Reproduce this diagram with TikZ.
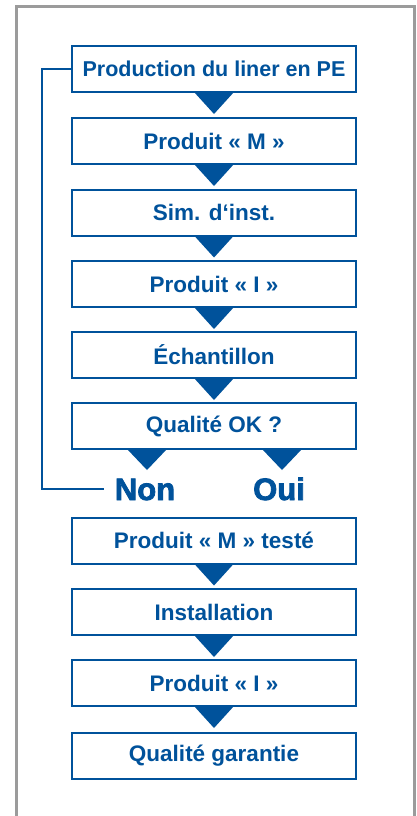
\documentclass[tikz,border=0pt]{standalone}
\usepackage{fontspec}
\setmainfont{Liberation Sans}
\newfontfamily\heavyfont{Liberation Sans}[FakeBold=2.5]
\definecolor{fblue}{RGB}{0,82,155}
\definecolor{fgray}{RGB}{155,155,155}
\tikzset{
  stepbox/.style={draw=fblue, line width=2pt, fill=white, minimum width=284pt, minimum height=46pt, inner sep=0pt,
    font=\fontsize{22.5}{24}\selectfont\bfseries, text=fblue},
  tri/.style={fill=fblue, draw=none},
  answer/.style={font=\fontsize{31}{33}\selectfont\heavyfont\bfseries, text=fblue, inner sep=0pt, anchor=base},
  loopline/.style={draw=fblue, line width=2pt}
}
\newcommand{\tridown}[1]{\fill[tri] ($(#1)+(-20,-1)$) -- ($(#1)+(20,-1)$) -- ($(#1)+(0,21)$) -- cycle;}
\usetikzlibrary{calc}
\begin{document}
\begin{tikzpicture}[x=1pt,y=-1pt]
\useasboundingbox (0,0) rectangle (417,816);
\fill[white] (0,0) rectangle (417,816);
\draw[fgray, line width=3pt] (16,830) -- (16,6.5) -- (414.5,6.5) -- (414.5,830);
\node[stepbox] (b1) at (214,69) {\fontsize{21.5}{24}\selectfont Production du liner en PE};
\node[stepbox] (b2) at (214,141) {Produit « M »};
\node[stepbox] (b3) at (214,212.5) {Sim. d‘inst.};
\node[stepbox] (b4) at (214,284) {Produit « I »};
\node[stepbox] (b5) at (214,355) {Échantillon};
\node[stepbox] (b6) at (214,426) {Qualité OK ?};
\node[stepbox] (b7) at (214,540.5) {Produit « M » testé};
\node[stepbox] (b8) at (214,612) {Installation};
\node[stepbox] (b9) at (214,683) {Produit « I »};
\node[stepbox] (b10) at (214,755.5) {Qualité garantie};
\node[answer] (non) at (145,500) {Non};
\node[answer] (oui) at (279,500) {Oui};
\coordinate (ltop) at (42,69);
\coordinate (lbot) at (42,489);
\coordinate (lend) at (104,489);
\draw[loopline] (b1.west) -- (ltop) -- (lbot) -- (lend);
\tridown{b1.south}
\tridown{b2.south}
\tridown{b3.south}
\tridown{b4.south}
\tridown{b5.south}
\tridown{b7.south}
\tridown{b8.south}
\tridown{b9.south}
\fill[tri] ($(b6.south)+(-87,-1)$) -- ($(b6.south)+(-47,-1)$) -- ($(b6.south)+(-67,20)$) -- cycle;
\fill[tri] ($(b6.south)+(48,-1)$) -- ($(b6.south)+(88,-1)$) -- ($(b6.south)+(68,20)$) -- cycle;
\end{tikzpicture}
\end{document}
